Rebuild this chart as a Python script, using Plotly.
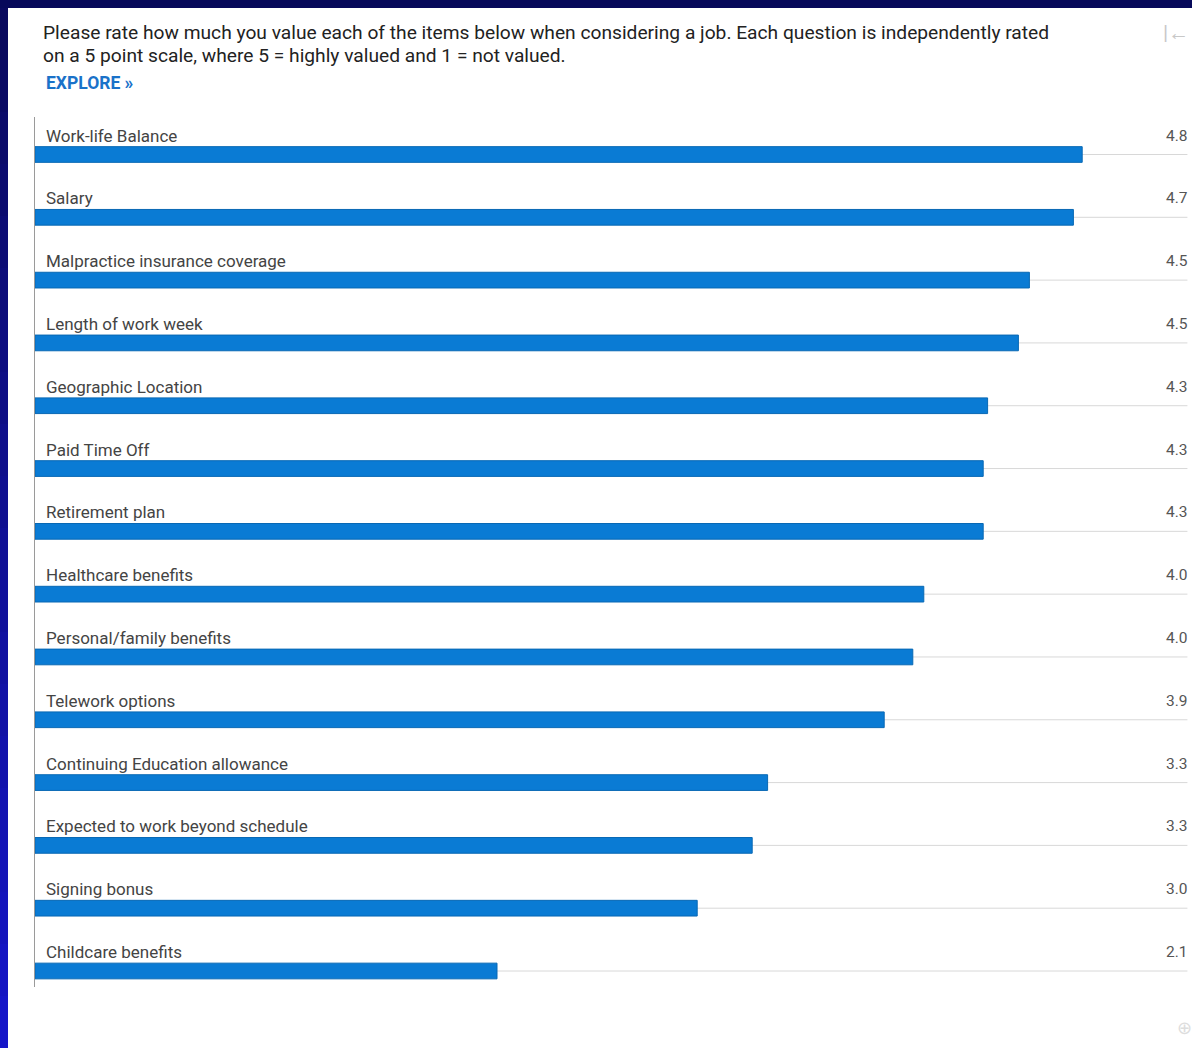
import plotly.graph_objects as go

categories = [
    "Work-life Balance", "Salary", "Malpractice insurance coverage",
    "Length of work week", "Geographic Location", "Paid Time Off",
    "Retirement plan", "Healthcare benefits", "Personal/family benefits",
    "Telework options", "Continuing Education allowance",
    "Expected to work beyond schedule", "Signing bonus", "Childcare benefits",
]
ratings = [4.76, 4.72, 4.52, 4.47, 4.33, 4.31, 4.31, 4.04, 3.99, 3.86,
           3.33, 3.26, 3.01, 2.10]

title_line1 = ("Please rate how much you value each of the items below when "
               "considering a job. Each question is independently rated")
title_line2 = "on a 5 point scale, where 5 = highly valued and 1 = not valued."
explore_text = "EXPLORE »"

W, H = 1192, 1048
L, R, T, B = 35, 4, 117, 61
PW, PH = W - L - R, H - T - B


def px_x(px):
    return (px - L) / PW


def px_y(py):
    return (H - B - py) / PH


FONT = "Roboto, 'Noto Sans', Arial, sans-serif"

fig = go.Figure()
fig.add_trace(go.Bar(
    x=ratings, y=categories, orientation="h", width=0.25,
    marker=dict(color="#0a7bd4", line=dict(color="#0868b4", width=1)),
    hoverinfo="x+y", showlegend=False,
))

shapes = []
# background decoration: top navy strip and left blue strip (gradient)
shapes.append(dict(type="rect", xref="paper", yref="paper",
                   x0=px_x(0), x1=px_x(W), y0=px_y(8), y1=px_y(0),
                   fillcolor="#07095a", line=dict(width=0), layer="below"))
nseg = 20
c0 = (10, 10, 95)
c1 = (22, 22, 200)
for i in range(nseg):
    t = i / (nseg - 1)
    col = "rgb(%d,%d,%d)" % tuple(int(a + (b - a) * t) for a, b in zip(c0, c1))
    y0p = 8 + (H - 8) * i / nseg
    y1p = 8 + (H - 8) * (i + 1) / nseg + 1
    shapes.append(dict(type="rect", xref="paper", yref="paper",
                       x0=px_x(0), x1=px_x(8), y0=px_y(y1p), y1=px_y(y0p),
                       fillcolor=col, line=dict(width=0), layer="below"))

# gray track lines
for c in categories:
    shapes.append(dict(type="line", xref="paper", yref="y", x0=0, x1=0.9995,
                       y0=c, y1=c, line=dict(color="#d8d8d8", width=1),
                       layer="below"))

annotations = []
for c, v in zip(categories, ratings):
    annotations.append(dict(x=0, y=c, xref="x", yref="y", text=c,
                            xanchor="left", yanchor="middle", xshift=9,
                            yshift=19, showarrow=False,
                            font=dict(family=FONT, size=17, color="#444444")))
    annotations.append(dict(x=1, y=c, xref="paper", yref="y",
                            text=f"{v:.1f}", xanchor="right",
                            yanchor="middle", yshift=19, xshift=2,
                            showarrow=False,
                            font=dict(family=FONT, size=15.5, color="#555555")))

annotations.append(dict(x=px_x(41), y=px_y(32), xref="paper", yref="paper",
                        text=title_line1, xanchor="left", yanchor="middle",
                        showarrow=False,
                        font=dict(family=FONT, size=19.2, color="#222222")))
annotations.append(dict(x=px_x(41), y=px_y(56), xref="paper", yref="paper",
                        text=title_line2, xanchor="left", yanchor="middle",
                        showarrow=False,
                        font=dict(family=FONT, size=19.2, color="#222222")))
annotations.append(dict(x=px_x(44), y=px_y(83), xref="paper", yref="paper",
                        text="<b>" + explore_text + "</b>", xanchor="left",
                        yanchor="middle", showarrow=False,
                        font=dict(family=FONT, size=17.5, color="#1a72c9")))
annotations.append(dict(x=px_x(1191), y=px_y(33), xref="paper", yref="paper",
                        text="|←", xanchor="right", yanchor="middle",
                        showarrow=False,
                        font=dict(family=FONT, size=21, color="#c8c8c8")))
annotations.append(dict(x=px_x(1194), y=px_y(1027), xref="paper",
                        yref="paper", text="⊕", xanchor="right",
                        yanchor="middle", showarrow=False,
                        font=dict(family=FONT, size=18, color="#dddddd")))

n = len(categories)
row_px = (971 - 154.5) / (n - 1)
y_top = (T - 154.5) / row_px
y_bot = (H - B - 154.5) / row_px

fig.update_layout(
    width=W, height=H,
    margin=dict(l=L, r=R, t=T, b=B, pad=0),
    paper_bgcolor="white", plot_bgcolor="white",
    xaxis=dict(range=[0, PW / 220.0], visible=False, showgrid=False,
               zeroline=False, fixedrange=True),
    yaxis=dict(type="category", categoryorder="array",
               categoryarray=categories, range=[y_bot, y_top],
               showticklabels=False, showgrid=False, zeroline=False,
               showline=True, linecolor="#9a9a9a", linewidth=1,
               ticks="", fixedrange=True),
    shapes=shapes, annotations=annotations,
    bargap=0.75, showlegend=False,
)

fig.write_html("out.html")
